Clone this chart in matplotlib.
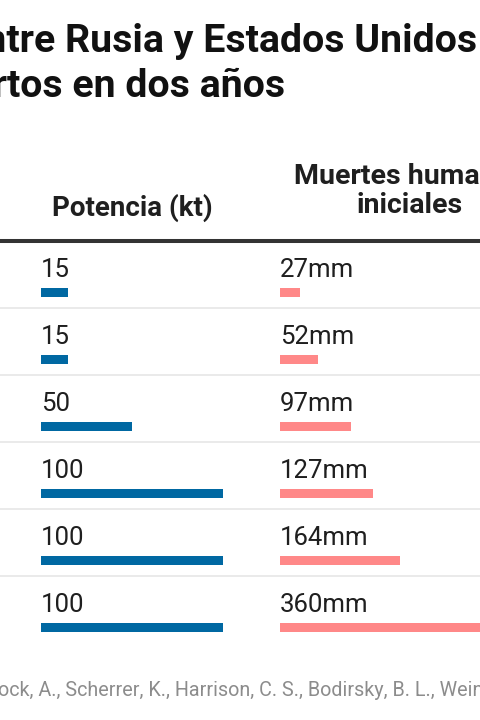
import matplotlib
matplotlib.use("Agg")
import matplotlib.pyplot as plt

plt.rcParams['font.family'] = ['Roboto', 'DejaVu Sans']

# values
potencia_kt = [15, 15, 50, 100, 100, 100]
muertes_mm = [27, 52, 97, 127, 164, 360]
muertes_labels = ["27mm", "52mm", "97mm", "127mm", "164mm", "360mm"]

titulo_1 = "Una guerra nuclear entre Rusia y Estados Unidos"
titulo_2 = "dejaría 5.000 millones de muertos en dos años"
col_potencia = "Potencia (kt)"
col_muertes_1 = "Muertes humanas"
col_muertes_2 = "iniciales"
fuente = ("Fuente: Xia, L., Robock, A., Scherrer, K., Harrison, C. S., "
          "Bodirsky, B. L., Weindl, I., Jägermeyr, J., Bardeen, C. G.")

BLUE = "#0068a2"
PINK = "#ff8888"
DARK = "#1f1f1f"
TSIZE = 28.3

W, H = 480, 720
fig = plt.figure(figsize=(W / 100, H / 100), dpi=100)
ax = fig.add_axes([0, 0, 1, 1])
ax.set_xlim(0, W)
ax.set_ylim(H, 0)
ax.axis("off")
r = fig.canvas.get_renderer()


def text_width(s, size, **kw):
    t = ax.text(0, 0, s, fontsize=size, **kw)
    w = t.get_window_extent(r).width
    t.remove()
    return w


# title (left part cut off in the reference)
ax.text(477, 52, titulo_1, ha="right", va="baseline", fontsize=TSIZE,
        fontweight="bold", color="#111111")
w2 = text_width("rtos en dos años", TSIZE, fontweight="bold")
ax.text(w2 - 7, 97, titulo_2, ha="right", va="baseline", fontsize=TSIZE,
        fontweight="bold", color="#111111")

# column headers
ax.text(132, 216, col_potencia, ha="center", va="baseline", fontsize=20,
        fontweight="bold", color=DARK)
ax.text(410, 184, col_muertes_1, ha="center", va="baseline", fontsize=20.5,
        fontweight="bold", color=DARK)
ax.text(410, 213, col_muertes_2, ha="center", va="baseline", fontsize=20.5,
        fontweight="bold", color=DARK)

ax.plot([0, W], [240.5, 240.5], color="#333333", lw=2.9, solid_capstyle="butt")

row_top = 241
row_h = 67
n = len(potencia_kt)
for i in range(n):
    top = row_top + i * row_h
    ax.text(41, top + 36, str(potencia_kt[i]), ha="left", va="baseline",
            fontsize=18.5, color=DARK)
    ax.text(280, top + 36, muertes_labels[i], ha="left", va="baseline",
            fontsize=18.5, color=DARK)
    if i < n - 1:
        ax.plot([0, W], [top + row_h, top + row_h], color="#e8e8e8", lw=1.3)

centers = [row_top + i * row_h + 51.5 for i in range(n)]

# bar columns: each one its own axes so values go through a real scale
ax_kt = fig.add_axes([41.3 / W, 0, 181.3 / W, 1])
ax_kt.set_xlim(0, 100)
ax_kt.set_ylim(H, 0)
ax_kt.barh(centers, potencia_kt, height=9, color=BLUE)
ax_kt.axis("off")

ax_mm = fig.add_axes([280 / W, 0, 263 / W, 1])
ax_mm.set_xlim(0, 360)
ax_mm.set_ylim(H, 0)
ax_mm.barh(centers, muertes_mm, height=9, color=PINK)
ax_mm.axis("off")

# source line, shifted so that the visible part starts at "ock, A."
w_pre = text_width("Fuente: Xia, L., Rob", 14.2)
ax.text(-2 - w_pre, 696.5, fuente, ha="left", va="baseline", fontsize=14.2,
        color="#8c8c8c")

fig.savefig("out.png", dpi=100)
